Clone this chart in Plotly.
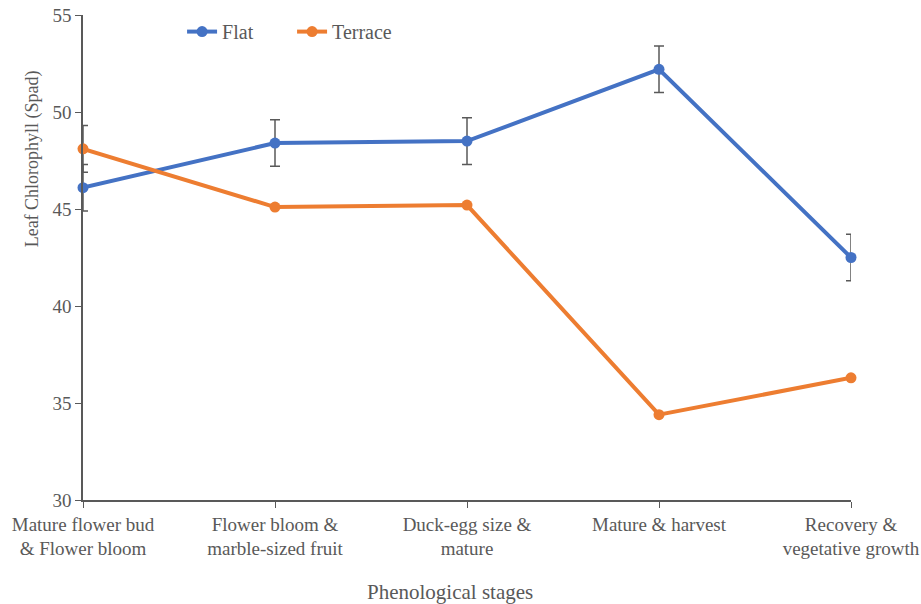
import plotly.graph_objects as go

stages = ["Mature flower bud<br>& Flower bloom", "Flower bloom &<br>marble-sized fruit",
          "Duck-egg size &<br>mature", "Mature & harvest", "Recovery &<br>vegetative growth"]
flat = [46.1, 48.4, 48.5, 52.2, 42.5]
flat_err = [1.2, 1.2, 1.2, 1.2, 1.2]
terrace = [48.1, 45.1, 45.2, 34.4, 36.3]
terrace_err = [1.2, 0, 0, 0, 0]

x = list(range(len(stages)))
gray = "#595959"
font = "Liberation Serif, Times New Roman, serif"

fig = go.Figure()
fig.add_trace(go.Scatter(
    x=x, y=flat, name="Flat", mode="lines+markers",
    line=dict(color="#4472C4", width=4), marker=dict(size=11, color="#4472C4"),
    error_y=dict(type="data", array=flat_err, visible=True, color=gray, thickness=1.5, width=5),
    cliponaxis=False))
fig.add_trace(go.Scatter(
    x=x, y=terrace, name="Terrace", mode="lines+markers",
    line=dict(color="#ED7D31", width=4), marker=dict(size=11, color="#ED7D31"),
    error_y=dict(type="data", array=terrace_err, visible=True, color=gray, thickness=1.5, width=5),
    cliponaxis=False))

fig.update_layout(
    width=921, height=604,
    margin=dict(l=83, r=70, t=15, b=104, autoexpand=False),
    plot_bgcolor="white", paper_bgcolor="white",
    font=dict(family=font, size=19, color=gray),
    showlegend=True,
    legend=dict(orientation="h", x=0.129, y=1.006, xanchor="left", yanchor="top",
                font=dict(size=20, color=gray), bgcolor="rgba(0,0,0,0)",
                entrywidth=65, entrywidthmode="pixels"),
    xaxis=dict(
        tickmode="array", tickvals=x, ticktext=stages, range=[0, 4], automargin=False,
        showline=True, linecolor=gray, linewidth=1.5, ticks="outside", ticklen=6,
        tickcolor=gray, showgrid=False, zeroline=False,
        tickfont=dict(size=19, color=gray)),
    yaxis=dict(
        range=[30, 55], dtick=5, showline=True, linecolor=gray, linewidth=1.5, automargin=False,
        ticks="outside", ticklen=6, tickcolor=gray, showgrid=False, zeroline=False,
        tickfont=dict(size=19, color=gray)),
)
fig.add_annotation(text="Leaf Chlorophyll (Spad)", xref="paper", yref="paper",
                   x=-0.066, y=0.703, textangle=-90, showarrow=False,
                   xanchor="center", yanchor="middle",
                   font=dict(size=18, color=gray, family=font))
fig.add_annotation(text="Phenological stages", xref="paper", yref="paper",
                   x=0.478, y=-0.19, showarrow=False,
                   xanchor="center", yanchor="middle",
                   font=dict(size=21, color=gray, family=font))

fig.write_html("out.html", config={"displayModeBar": False},
               post_script="document.body.style.margin='0';document.body.style.overflow='hidden';")
